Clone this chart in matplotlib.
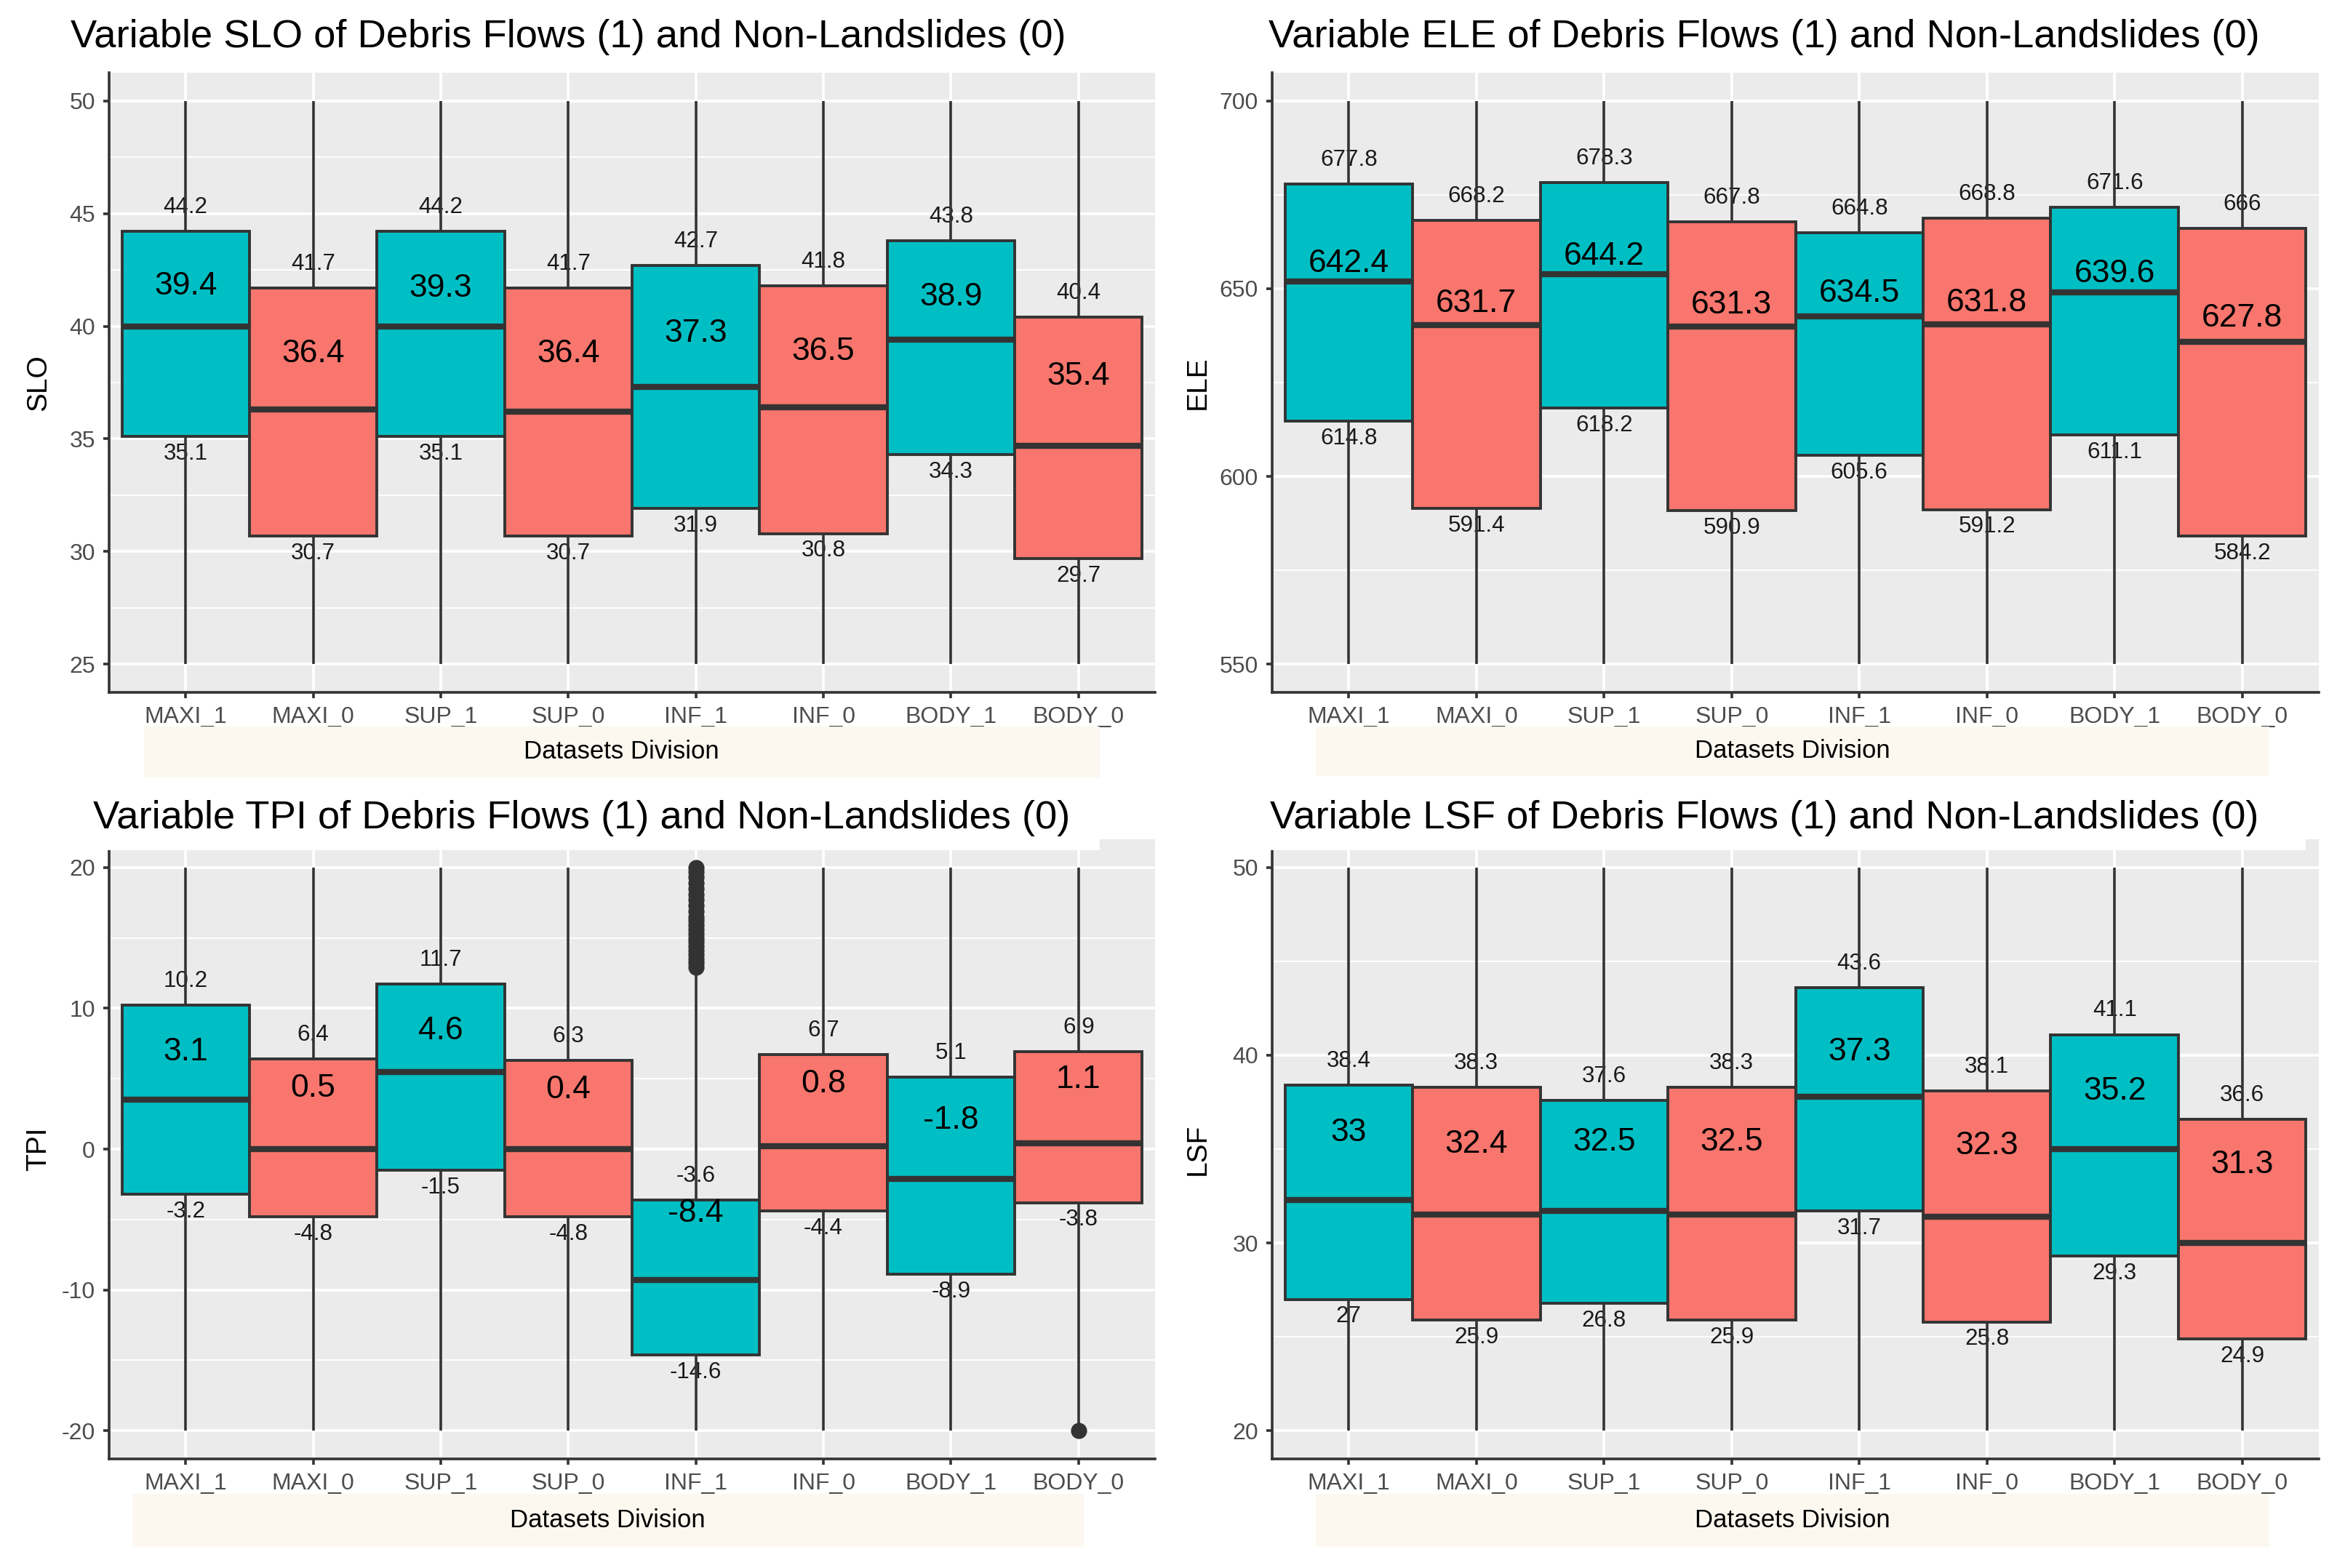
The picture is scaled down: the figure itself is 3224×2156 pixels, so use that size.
import numpy as np
import matplotlib
matplotlib.use("Agg")
import matplotlib.pyplot as plt
from matplotlib.patches import Rectangle

plt.rcParams["font.family"] = ["Liberation Sans", "DejaVu Sans"]
plt.rcParams["axes.unicode_minus"] = False

categories = ["MAXI_1", "MAXI_0", "SUP_1", "SUP_0", "INF_1", "INF_0", "BODY_1", "BODY_0"]
teal = "#00BFC4"
salmon = "#F8766D"
box_colors = [teal, salmon] * 4

# SLO
slo_q1 = [35.1, 30.7, 35.1, 30.7, 31.9, 30.8, 34.3, 29.7]
slo_median = [40.0, 36.3, 40.0, 36.2, 37.3, 36.4, 39.4, 34.7]
slo_q3 = [44.2, 41.7, 44.2, 41.7, 42.7, 41.8, 43.8, 40.4]
slo_mean = [39.4, 36.4, 39.3, 36.4, 37.3, 36.5, 38.9, 35.4]
slo_range = (25, 50, 5)

# ELE
ele_q1 = [614.8, 591.4, 618.2, 590.9, 605.6, 591.2, 611.1, 584.2]
ele_median = [652.0, 640.3, 653.9, 639.9, 642.6, 640.4, 649.1, 635.8]
ele_q3 = [677.8, 668.2, 678.3, 667.8, 664.8, 668.8, 671.6, 666]
ele_mean = [642.4, 631.7, 644.2, 631.3, 634.5, 631.8, 639.6, 627.8]
ele_range = (550, 700, 50)

# TPI
tpi_q1 = [-3.2, -4.8, -1.5, -4.8, -14.6, -4.4, -8.9, -3.8]
tpi_median = [3.5, 0.0, 5.5, 0.0, -9.3, 0.2, -2.1, 0.4]
tpi_q3 = [10.2, 6.4, 11.7, 6.3, -3.6, 6.7, 5.1, 6.9]
tpi_mean = [3.1, 0.5, 4.6, 0.4, -8.4, 0.8, -1.8, 1.1]
tpi_range = (-20, 20, 10)
tpi_outliers_inf1 = [12.9, 13.2, 13.5, 13.8, 14.1, 14.4, 14.7, 15.0, 15.3, 15.6, 15.9,
                     16.2, 16.5, 16.9, 17.3, 17.7, 18.1, 18.5, 18.9, 19.3, 19.7, 20.0]
tpi_outliers_body0 = [-20.0]

# LSF
lsf_q1 = [27, 25.9, 26.8, 25.9, 31.7, 25.8, 29.3, 24.9]
lsf_median = [32.3, 31.5, 31.7, 31.5, 37.8, 31.4, 35.0, 30.0]
lsf_q3 = [38.4, 38.3, 37.6, 38.3, 43.6, 38.1, 41.1, 36.6]
lsf_mean = [33, 32.4, 32.5, 32.5, 37.3, 32.3, 35.2, 31.3]
lsf_range = (20, 50, 10)

W, H = 3224, 2156
fig = plt.figure(figsize=(W / 200, H / 200), dpi=200)
line_col = "#333333"


def fx(px):
    return px / W


def fy(py):
    return 1 - py / H


def fmt(v):
    return f"{v:g}"


def draw_panel(rect, name, q1, med, q3, mean, yr, outliers=None):
    lo, hi, step = yr
    ax = fig.add_axes(rect)
    ax.set_facecolor("#EBEBEB")
    x = np.arange(1, len(categories) + 1)
    q1 = np.array(q1, dtype=float)
    q3 = np.array(q3, dtype=float)

    ax.vlines(x, lo, hi, colors=line_col, lw=1.3, zorder=2)
    if outliers:
        for idx, vals in outliers.items():
            ax.plot([x[idx]] * len(vals), vals, "o", color=line_col, ms=7,
                    zorder=2.5, clip_on=False)
    ax.bar(x, q3 - q1, bottom=q1, width=1.0, color=box_colors,
           edgecolor=line_col, linewidth=1.4, zorder=3)
    ax.hlines(med, x - 0.5, x + 0.5, colors=line_col, lw=3.0, zorder=4)

    for i in range(len(x)):
        ax.annotate(fmt(q3[i]), (x[i], q3[i]), xytext=(0, 11.9),
                    textcoords="offset points", ha="center", va="center",
                    fontsize=11.3, color="#1a1a1a", zorder=1.5)
        ax.annotate(fmt(q1[i]), (x[i], q1[i]), xytext=(0, -8.6),
                    textcoords="offset points", ha="center", va="center",
                    fontsize=11.3, color="#1a1a1a", zorder=1.5)
        ax.annotate(fmt(mean[i]), (x[i], mean[i]), xytext=(0, 26.6),
                    textcoords="offset points", ha="center", va="center",
                    fontsize=16, color="black", zorder=5)

    pad = (hi - lo) * 0.05
    ax.set_xlim(0.4, len(categories) + 0.6)
    ax.set_ylim(lo - pad, hi + pad)
    ax.set_xticks(x)
    ax.set_xticklabels(categories)
    ax.set_yticks(np.arange(lo, hi + step / 2, step))
    ax.set_yticks(np.arange(lo + step / 2, hi, step), minor=True)
    ax.set_axisbelow(True)
    ax.grid(which="major", color="white", lw=1.3)
    ax.grid(which="minor", axis="y", color="white", lw=0.65)
    for s in ["top", "right"]:
        ax.spines[s].set_visible(False)
    for s in ["left", "bottom"]:
        ax.spines[s].set_color(line_col)
        ax.spines[s].set_linewidth(1.3)
    ax.tick_params(which="major", length=2.9, width=1.3, color=line_col,
                   labelcolor="#4D4D4D", labelsize=11.5, pad=4)
    ax.tick_params(which="minor", length=0)
    return ax


top_b, top_t = fy(952), fy(100)
bot_b, bot_t = fy(2006), fy(1154)
left_l, left_r = fx(150), fx(1588)
right_l, right_r = fx(1749), fx(3188)

draw_panel([left_l, top_b, left_r - left_l, top_t - top_b], "SLO",
           slo_q1, slo_median, slo_q3, slo_mean, slo_range)
draw_panel([right_l, top_b, right_r - right_l, top_t - top_b], "ELE",
           ele_q1, ele_median, ele_q3, ele_mean, ele_range)
draw_panel([left_l, bot_b, left_r - left_l, bot_t - bot_b], "TPI",
           tpi_q1, tpi_median, tpi_q3, tpi_mean, tpi_range,
           outliers={4: tpi_outliers_inf1, 7: tpi_outliers_body0})
draw_panel([right_l, bot_b, right_r - right_l, bot_t - bot_b], "LSF",
           lsf_q1, lsf_median, lsf_q3, lsf_mean, lsf_range)

# white strips over the top of the lower panels
fig.add_artist(Rectangle((0, fy(1167)), fx(1510), fy(1150) - fy(1167),
                         transform=fig.transFigure, color="white", zorder=5))
fig.add_artist(Rectangle((fx(1700), fy(1167)), fx(3168) - fx(1700), fy(1150) - fy(1167),
                         transform=fig.transFigure, color="white", zorder=5))

# titles
titles = [("SLO", 97, 65), ("ELE", 1744, 65), ("TPI", 128, 1139), ("LSF", 1746, 1139)]
for name, px, py in titles:
    fig.text(fx(px), fy(py), f"Variable {name} of Debris Flows (1) and Non-Landslides (0)",
             ha="left", va="baseline", fontsize=19.6, color="black", zorder=6)

# y labels
ylabels = [("SLO", 53, 526), ("ELE", 1647, 526), ("TPI", 53, 1580), ("LSF", 1647, 1580)]
for name, px, py in ylabels:
    fig.text(fx(px), fy(py), name, rotation=90, ha="center", va="center",
             fontsize=14, color="black")

# x label boxes
xboxes = [(199, 1510, 1000, 1067), (1810, 3118, 1000, 1065),
          (183, 1488, 2055, 2125), (1810, 3118, 2055, 2125)]
for x0, x1, y0, y1 in xboxes:
    fig.add_artist(Rectangle((fx(x0), fy(y1)), fx(x1) - fx(x0), fy(y0) - fy(y1),
                             transform=fig.transFigure, color="#FCF8F0", zorder=1))
    fig.text(fx((x0 + x1) / 2), fy((y0 + y1) / 2), "Datasets Division",
             ha="center", va="center", fontsize=12.5, color="black", zorder=2)

fig.savefig("out.png", dpi=200, facecolor="white")
